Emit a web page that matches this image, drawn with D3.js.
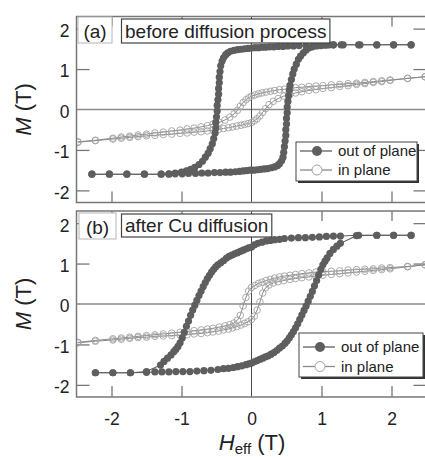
<!DOCTYPE html>
<html><head><meta charset="utf-8">
<script src="https://cdn.jsdelivr.net/npm/d3@7"></script>
<style>
body{margin:0;background:#fff}
svg{display:block}
text{font-family:"Liberation Sans",Arial,Helvetica,sans-serif;fill:#222}
</style>
</head><body>
<svg id="c" width="425" height="457"></svg>
<script>
// ---------- data ----------
const hTicks = [-2, -1, 0, 1, 2];
const mTicks = [-2, -1, 0, 1, 2];
const panelLabels = ["(a)", "(b)"];
const panelTitles = ["before diffusion process", "after Cu diffusion"];
const seriesNames = ["out of plane", "in plane"];

// panel (a) out of plane, field decreasing / increasing  [H (T), M (T)]
const aOutDown = [[2.28,1.60],[2.03,1.60],[1.79,1.60],[1.53,1.60],[1.28,1.60],[1.17,1.60],[1.08,1.60],[0.98,1.59],[0.88,1.59],[0.78,1.58],[0.68,1.58],[0.60,1.57],[0.52,1.57],[0.45,1.56],[0.38,1.56],[0.32,1.55],[0.26,1.55],[0.20,1.54],[0.15,1.54],[0.10,1.53],[0.05,1.53],[0.00,1.52],[-0.05,1.51],[-0.10,1.50],[-0.15,1.49],[-0.20,1.48],[-0.25,1.46],[-0.30,1.44],[-0.34,1.40],[-0.37,1.35],[-0.40,1.28],[-0.42,1.20],[-0.44,1.08],[-0.45,0.94],[-0.46,0.80],[-0.46,0.66],[-0.47,0.52],[-0.47,0.38],[-0.48,0.24],[-0.49,0.10],[-0.49,-0.04],[-0.50,-0.18],[-0.51,-0.32],[-0.51,-0.46],[-0.52,-0.58],[-0.54,-0.72],[-0.56,-0.85],[-0.59,-0.97],[-0.62,-1.08],[-0.66,-1.18],[-0.70,-1.28],[-0.75,-1.36],[-0.81,-1.43],[-0.87,-1.48],[-0.93,-1.52],[-1.00,-1.55],[-1.09,-1.57],[-1.18,-1.59],[-1.29,-1.60],[-1.53,-1.60],[-1.78,-1.60],[-2.03,-1.60],[-2.28,-1.60]];
const aOutUp = [[-2.28,-1.60],[-2.03,-1.60],[-1.78,-1.60],[-1.53,-1.60],[-1.29,-1.60],[-1.18,-1.60],[-1.09,-1.59],[-0.99,-1.59],[-0.90,-1.58],[-0.80,-1.58],[-0.71,-1.57],[-0.62,-1.57],[-0.53,-1.56],[-0.45,-1.56],[-0.37,-1.55],[-0.30,-1.55],[-0.23,-1.54],[-0.17,-1.53],[-0.12,-1.52],[-0.07,-1.51],[-0.02,-1.50],[0.03,-1.50],[0.08,-1.49],[0.13,-1.48],[0.18,-1.47],[0.23,-1.46],[0.28,-1.44],[0.33,-1.42],[0.37,-1.39],[0.40,-1.34],[0.43,-1.27],[0.45,-1.18],[0.46,-1.06],[0.47,-0.92],[0.48,-0.78],[0.49,-0.64],[0.49,-0.50],[0.50,-0.36],[0.50,-0.22],[0.51,-0.08],[0.51,0.06],[0.52,0.20],[0.53,0.34],[0.54,0.48],[0.55,0.60],[0.57,0.74],[0.59,0.88],[0.61,1.00],[0.64,1.12],[0.67,1.24],[0.70,1.32],[0.74,1.40],[0.78,1.47],[0.82,1.52],[0.87,1.55],[0.93,1.57],[0.99,1.58],[1.05,1.59],[1.11,1.60],[1.17,1.60],[1.31,1.60],[1.55,1.60],[1.79,1.60],[2.03,1.60],[2.28,1.60]];

// panel (a) in plane
const aInDown = [[2.48,0.81],[2.23,0.77],[1.98,0.73],[1.86,0.71],[1.74,0.69],[1.62,0.67],[1.50,0.65],[1.38,0.64],[1.26,0.62],[1.14,0.61],[1.02,0.59],[0.92,0.58],[0.82,0.57],[0.72,0.55],[0.63,0.54],[0.55,0.52],[0.47,0.50],[0.40,0.49],[0.33,0.47],[0.27,0.45],[0.21,0.43],[0.15,0.41],[0.10,0.39],[0.05,0.36],[0.00,0.33],[-0.04,0.29],[-0.08,0.24],[-0.12,0.17],[-0.16,0.08],[-0.20,-0.02],[-0.25,-0.11],[-0.31,-0.19],[-0.38,-0.26],[-0.46,-0.32],[-0.55,-0.36],[-0.63,-0.40],[-0.72,-0.43],[-0.82,-0.46],[-0.92,-0.48],[-1.02,-0.51],[-1.14,-0.53],[-1.26,-0.56],[-1.38,-0.58],[-1.50,-0.61],[-1.62,-0.63],[-1.74,-0.66],[-1.86,-0.68],[-1.98,-0.71],[-2.23,-0.76],[-2.48,-0.80]];
const aInUp = [[-2.48,-0.81],[-2.23,-0.77],[-1.98,-0.73],[-1.86,-0.71],[-1.74,-0.69],[-1.62,-0.67],[-1.50,-0.65],[-1.38,-0.64],[-1.26,-0.62],[-1.14,-0.61],[-1.02,-0.59],[-0.92,-0.58],[-0.82,-0.56],[-0.72,-0.55],[-0.63,-0.53],[-0.55,-0.51],[-0.47,-0.49],[-0.40,-0.47],[-0.33,-0.45],[-0.27,-0.43],[-0.21,-0.41],[-0.15,-0.39],[-0.10,-0.37],[-0.05,-0.35],[0.00,-0.32],[0.04,-0.28],[0.08,-0.23],[0.12,-0.16],[0.16,-0.07],[0.20,0.02],[0.25,0.12],[0.31,0.20],[0.38,0.27],[0.46,0.33],[0.55,0.37],[0.63,0.41],[0.72,0.44],[0.82,0.47],[0.92,0.49],[1.02,0.52],[1.14,0.54],[1.26,0.57],[1.38,0.59],[1.50,0.62],[1.62,0.64],[1.74,0.67],[1.86,0.69],[1.98,0.72],[2.23,0.77],[2.48,0.81]];

// panel (b) out of plane
const bOutDown = [[2.28,1.70],[2.03,1.70],[1.79,1.70],[1.53,1.70],[1.27,1.68],[1.17,1.68],[1.07,1.67],[0.97,1.66],[0.87,1.65],[0.77,1.64],[0.67,1.64],[0.57,1.63],[0.47,1.62],[0.40,1.60],[0.33,1.59],[0.27,1.57],[0.21,1.56],[0.15,1.53],[0.09,1.50],[0.04,1.46],[0.00,1.41],[-0.04,1.39],[-0.08,1.36],[-0.12,1.33],[-0.16,1.30],[-0.20,1.27],[-0.24,1.24],[-0.28,1.21],[-0.32,1.18],[-0.36,1.13],[-0.40,1.07],[-0.44,1.02],[-0.48,0.97],[-0.51,0.92],[-0.54,0.86],[-0.57,0.79],[-0.60,0.71],[-0.63,0.63],[-0.66,0.53],[-0.69,0.43],[-0.72,0.32],[-0.75,0.21],[-0.78,0.09],[-0.81,-0.03],[-0.84,-0.15],[-0.87,-0.28],[-0.90,-0.42],[-0.93,-0.55],[-0.96,-0.70],[-0.99,-0.84],[-1.02,-0.96],[-1.05,-1.05],[-1.08,-1.12],[-1.11,-1.18],[-1.15,-1.26],[-1.20,-1.34],[-1.25,-1.42],[-1.30,-1.51],[-1.50,-1.67],[-1.73,-1.70],[-1.98,-1.70],[-2.23,-1.70]];
const bOutUp = [[-2.23,-1.70],[-1.98,-1.70],[-1.73,-1.70],[-1.50,-1.69],[-1.38,-1.68],[-1.28,-1.68],[-1.18,-1.68],[-1.08,-1.67],[-0.98,-1.67],[-0.88,-1.67],[-0.78,-1.66],[-0.68,-1.65],[-0.58,-1.64],[-0.48,-1.62],[-0.40,-1.60],[-0.33,-1.59],[-0.26,-1.57],[-0.20,-1.55],[-0.14,-1.53],[-0.08,-1.50],[-0.04,-1.48],[0.00,-1.46],[0.04,-1.43],[0.08,-1.40],[0.12,-1.37],[0.16,-1.34],[0.20,-1.31],[0.24,-1.28],[0.28,-1.24],[0.32,-1.20],[0.36,-1.15],[0.40,-1.09],[0.44,-1.04],[0.48,-0.97],[0.51,-0.91],[0.54,-0.84],[0.57,-0.76],[0.60,-0.68],[0.63,-0.59],[0.66,-0.49],[0.69,-0.38],[0.72,-0.27],[0.75,-0.16],[0.78,-0.05],[0.81,0.07],[0.84,0.19],[0.87,0.31],[0.90,0.45],[0.93,0.58],[0.96,0.72],[0.99,0.86],[1.02,0.97],[1.05,1.06],[1.08,1.14],[1.12,1.25],[1.17,1.35],[1.22,1.43],[1.27,1.50],[1.50,1.69],[1.79,1.70],[2.03,1.70],[2.28,1.70]];

// panel (b) in plane
const bInDown = [[2.48,0.97],[2.23,0.93],[1.98,0.90],[1.86,0.89],[1.74,0.87],[1.62,0.86],[1.50,0.85],[1.38,0.84],[1.26,0.82],[1.14,0.81],[1.02,0.80],[0.92,0.79],[0.82,0.77],[0.72,0.75],[0.63,0.73],[0.55,0.71],[0.47,0.69],[0.40,0.67],[0.33,0.64],[0.27,0.61],[0.21,0.58],[0.15,0.54],[0.10,0.51],[0.05,0.46],[0.00,0.41],[-0.04,0.32],[-0.08,0.16],[-0.12,-0.05],[-0.16,-0.28],[-0.20,-0.40],[-0.25,-0.47],[-0.31,-0.51],[-0.38,-0.54],[-0.46,-0.57],[-0.55,-0.60],[-0.63,-0.62],[-0.72,-0.64],[-0.82,-0.66],[-0.92,-0.68],[-1.02,-0.70],[-1.14,-0.72],[-1.26,-0.74],[-1.38,-0.76],[-1.50,-0.78],[-1.62,-0.80],[-1.74,-0.82],[-1.86,-0.84],[-1.98,-0.86],[-2.23,-0.90],[-2.48,-0.95]];
const bInUp = [[-2.48,-0.96],[-2.23,-0.92],[-1.98,-0.89],[-1.86,-0.87],[-1.74,-0.85],[-1.62,-0.83],[-1.50,-0.82],[-1.38,-0.80],[-1.26,-0.79],[-1.14,-0.78],[-1.02,-0.77],[-0.92,-0.76],[-0.82,-0.74],[-0.72,-0.73],[-0.63,-0.71],[-0.55,-0.69],[-0.47,-0.67],[-0.40,-0.64],[-0.33,-0.62],[-0.27,-0.59],[-0.21,-0.56],[-0.15,-0.52],[-0.10,-0.48],[-0.05,-0.44],[0.00,-0.38],[0.04,-0.30],[0.08,-0.15],[0.12,0.05],[0.16,0.27],[0.20,0.40],[0.25,0.47],[0.31,0.52],[0.38,0.55],[0.46,0.58],[0.55,0.61],[0.63,0.63],[0.72,0.65],[0.82,0.67],[0.92,0.69],[1.02,0.71],[1.14,0.73],[1.26,0.75],[1.38,0.77],[1.50,0.79],[1.62,0.81],[1.74,0.83],[1.86,0.85],[1.98,0.87],[2.23,0.92],[2.48,0.97]];

// ---------- drawing ----------
const svg = d3.select("#c");
const OUT = "#5e5e5e", OUTLINE = "#606060", INS = "#a2a2a2", INLINE = "#8a8a8a";
const FRAME = "#777";

const x = d3.scaleLinear().domain([-2.5, 2.5]).range([76.5, 426.5]);
const panels = [
  {top: 16.5, bottom: 202.5, out: [aOutDown, aOutUp], ins: [aInDown, aInUp],
   legend: {x: 296, y: 142, w: 121, h: 39, r1: 151, r2: 170}, labelBox: {x: 78, y: 17, w: 34, h: 26, base: 37.5}, titleBox: {y: 19, h: 24, base: 37.5}},
  {top: 211, bottom: 397, out: [bOutDown, bOutUp], ins: [bInDown, bInUp],
   legend: {x: 299, y: 333, w: 124, h: 44, r1: 347, r2: 366.5}, labelBox: {x: 79, y: 213, w: 37, h: 26, base: 233.5}, titleBox: {y: 214, h: 23, base: 232}}
];

panels.forEach((p, i) => {
  const y = d3.scaleLinear().domain([-2.3, 2.3]).range([p.bottom, p.top]);
  const g = svg.append("g");
  const clipId = "clip" + i;
  svg.append("clipPath").attr("id", clipId).append("rect")
    .attr("x", x(-2.5)).attr("y", p.top).attr("width", x(2.5) - x(-2.5)).attr("height", p.bottom - p.top);

  // zero lines
  g.append("line").attr("x1", x(-2.5)).attr("x2", x(2.5)).attr("y1", y(0)).attr("y2", y(0))
    .attr("stroke", "#8a8a8a").attr("stroke-width", 1.3);
  g.append("line").attr("x1", x(0)).attr("x2", x(0)).attr("y1", p.top).attr("y2", p.bottom)
    .attr("stroke", "#4a4a4a").attr("stroke-width", 1);

  // inner ticks on all four sides (via axes)
  const inner = hTicks.filter(d => d !== 0);
  const innerM = mTicks.filter(d => d !== 0);
  const tickStyle = sel => { sel.select(".domain").remove(); sel.selectAll("line").attr("stroke", FRAME).attr("stroke-width", 1.3); sel.selectAll("text").remove(); };
  g.append("g").attr("transform", `translate(0,${p.bottom})`).call(d3.axisBottom(x).tickValues(inner).tickSize(-11)).call(tickStyle);
  g.append("g").attr("transform", `translate(0,${p.top})`).call(d3.axisTop(x).tickValues(inner).tickSize(-10)).call(tickStyle);
  g.append("g").attr("transform", `translate(${x(-2.5)},0)`).call(d3.axisLeft(y).tickValues(innerM).tickSize(-13)).call(tickStyle);
  g.append("g").attr("transform", `translate(${x(2.5)},0)`).call(d3.axisRight(y).tickValues(innerM).tickSize(-13)).call(tickStyle);

  // y tick labels
  const yl = g.append("g").attr("transform", `translate(${x(-2.5)},0)`)
    .call(d3.axisLeft(y).tickValues(mTicks).tickSize(0).tickPadding(7).tickFormat(d => String(d)));
  yl.select(".domain").remove();
  yl.selectAll("text").attr("font-size", 17.5).attr("fill", "#222").attr("dy", "0.45em")
    .style("font-family", '"Liberation Sans", Arial, sans-serif');

  // data
  const line = d3.line().x(d => x(d[0])).y(d => y(d[1]));
  const dg = g.append("g").attr("clip-path", `url(#${clipId})`);
  p.ins.forEach(s => {
    dg.append("path").datum(s).attr("d", line).attr("fill", "none").attr("stroke", INLINE).attr("stroke-width", 1);
  });
  p.ins.forEach(s => {
    dg.append("g").selectAll("circle").data(s).join("circle")
      .attr("cx", d => x(d[0])).attr("cy", d => y(d[1])).attr("r", 3.3)
      .attr("fill", "none").attr("stroke", INS).attr("stroke-width", 0.9);
  });
  p.out.forEach(s => {
    dg.append("path").datum(s).attr("d", line).attr("fill", "none").attr("stroke", OUTLINE).attr("stroke-width", 1.1);
  });
  p.out.forEach(s => {
    dg.append("g").selectAll("circle").data(s).join("circle")
      .attr("cx", d => x(d[0])).attr("cy", d => y(d[1])).attr("r", 3.6).attr("fill", OUT);
  });

  // frame
  g.append("path").attr("d", `M${x(2.5)},${p.top}H${x(-2.5)}V${p.bottom}H${x(2.5)}V${p.top}`)
    .attr("fill", "none").attr("stroke", FRAME).attr("stroke-width", 1.5);

  // panel label box
  const lb = p.labelBox;
  g.append("rect").attr("x", lb.x).attr("y", lb.y).attr("width", lb.w).attr("height", lb.h)
    .attr("fill", "#fff").attr("stroke", "#b5b5b5").attr("stroke-width", 1);
  g.append("text").attr("x", lb.x + lb.w / 2).attr("y", lb.base).attr("text-anchor", "middle")
    .attr("font-size", 19).text(panelLabels[i]);

  // title box
  const tb = p.titleBox;
  const tt = g.append("text").attr("x", 125).attr("y", tb.base).attr("font-size", 19).text(panelTitles[i]);
  const tw = tt.node().getComputedTextLength();
  g.insert("rect", function(){ return tt.node(); }).attr("x", 121.5).attr("y", tb.y).attr("width", tw + 7).attr("height", tb.h)
    .attr("fill", "#fff").attr("stroke", "#444").attr("stroke-width", 1.2);

  // legend
  const L = p.legend;
  g.append("rect").attr("x", L.x + 2).attr("y", L.y + 2).attr("width", L.w).attr("height", L.h).attr("fill", "#333");
  g.append("rect").attr("x", L.x).attr("y", L.y).attr("width", L.w).attr("height", L.h)
    .attr("fill", "#fff").attr("stroke", "#444").attr("stroke-width", 1);
  const lx1 = L.x + 4, lx2 = L.x + 36, lm = L.x + 21;
  g.append("line").attr("x1", lx1).attr("x2", lx2).attr("y1", L.r1).attr("y2", L.r1).attr("stroke", OUTLINE).attr("stroke-width", 1.3);
  g.append("circle").attr("cx", lm).attr("cy", L.r1).attr("r", 5).attr("fill", OUT);
  g.append("line").attr("x1", lx1).attr("x2", lx2).attr("y1", L.r2).attr("y2", L.r2).attr("stroke", INLINE).attr("stroke-width", 1.3);
  g.append("circle").attr("cx", lm).attr("cy", L.r2).attr("r", 5).attr("fill", "#fff").attr("stroke", INS).attr("stroke-width", 1);
  g.append("text").attr("x", L.x + 42).attr("y", L.r1).attr("dy", "0.36em").attr("font-size", 15).text(seriesNames[0]);
  g.append("text").attr("x", L.x + 42).attr("y", L.r2).attr("dy", "0.36em").attr("font-size", 15).text(seriesNames[1]);

  // y-axis title
  const yt = g.append("text").attr("transform", `translate(31,${(p.top + p.bottom) / 2}) rotate(-90)`)
    .attr("text-anchor", "middle").attr("font-size", 22);
  yt.append("tspan").attr("font-style", "italic").text("M");
  yt.append("tspan").text(" (T)");

  if (i === 1) {
    const xl = g.append("g").attr("transform", `translate(0,${p.bottom})`)
      .call(d3.axisBottom(x).tickValues(hTicks).tickSize(0).tickPadding(16).tickFormat(d => String(d)));
    xl.select(".domain").remove();
    xl.selectAll("text").attr("font-size", 17.5).attr("fill", "#222")
      .style("font-family", '"Liberation Sans", Arial, sans-serif');
    const xt = svg.append("text").attr("x", 252).attr("y", 450).attr("text-anchor", "middle").attr("font-size", 22);
    xt.append("tspan").attr("font-style", "italic").text("H");
    xt.append("tspan").attr("font-size", 15).attr("dy", 4).text("eff");
    xt.append("tspan").attr("dy", -4).text(" (T)");
  }
});
</script>
</body></html>
